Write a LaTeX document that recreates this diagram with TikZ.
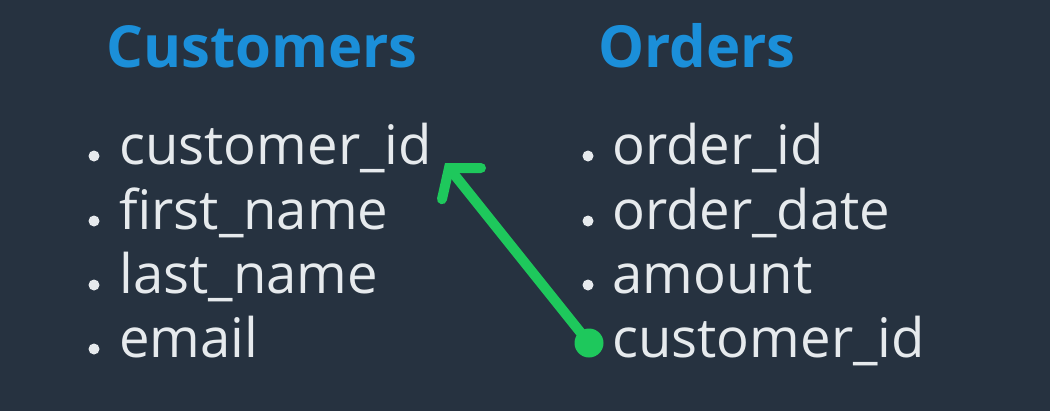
\documentclass[tikz,border=0pt]{standalone}
\usepackage{fontspec}
\setmainfont{Open Sans}
\usepackage{tikz}
\usetikzlibrary{arrows.meta,calc}
\definecolor{slate}{HTML}{263240}
\definecolor{headblue}{HTML}{1B8FD9}
\definecolor{fkgreen}{HTML}{1EC85C}
\definecolor{chalk}{HTML}{E6EAED}
\tikzset{
  head/.style ={anchor=base west, inner sep=0pt, text=headblue, font=\fontsize{33}{40}\selectfont\bfseries},
  field/.style ={anchor=base west, inner sep=0pt, text=chalk, font=\fontsize{31}{37}\selectfont},
  fkdot/.style ={circle, fill=fkgreen, inner sep=0pt, minimum size=0.58cm},
  link/.style ={draw=fkgreen, line width=0.2cm, -{Straight Barb[length=0.4cm, width=1cm, line cap=round]}}
}

\begin{document}
\begin{tikzpicture}
	\fill[slate] (0,0) rectangle (21,-8.22);
	\node[head] (custHead) at (2.12,-1.34) {Customers};
	\node[head] (ordHead) at (11.96,-1.34) {Orders};
	\node[field] (custId) at (2.38,-3.28) {customer\_id};
	\node[field] (firstName) at (2.38,-4.58) {first\_name};
	\node[field] (lastName) at (2.38,-5.86) {last\_name};
	\node[field] (email) at (2.38,-7.14) {email};
	\node[field] (orderId) at (12.24,-3.28) {order\_id};
	\node[field] (orderDate) at (12.24,-4.58) {order\_date};
	\node[field] (amount) at (12.24,-5.86) {amount};
	\node[field] (ordCustId) at (12.24,-7.14) {customer\_id};
	% bullets
	\fill[chalk] ($(custId.base west)+(-0.5,0.16)$) circle (0.11);
	\fill[chalk] ($(firstName.base west)+(-0.5,0.16)$) circle (0.11);
	\fill[chalk] ($(lastName.base west)+(-0.5,0.16)$) circle (0.11);
	\fill[chalk] ($(email.base west)+(-0.5,0.16)$) circle (0.11);
	\fill[chalk] ($(orderId.base west)+(-0.48,0.16)$) circle (0.11);
	\fill[chalk] ($(orderDate.base west)+(-0.48,0.16)$) circle (0.11);
	\fill[chalk] ($(amount.base west)+(-0.48,0.16)$) circle (0.11);
	% foreign key
	\coordinate (pk) at (8.9,-3.26);
	\node[fkdot] (fk) at (11.78,-6.86) {};
	\draw[link] (fk.center) -- (pk);
\end{tikzpicture}
\end{document}
